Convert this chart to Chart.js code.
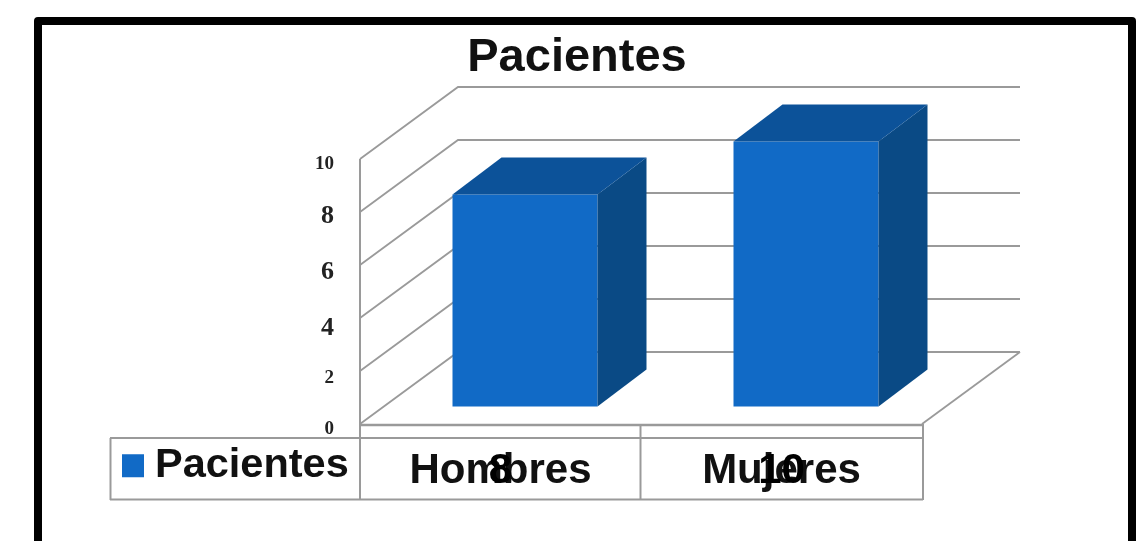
<!DOCTYPE html>
<html><head><meta charset="utf-8">
<style>html,body{margin:0;padding:0;background:#fff;overflow:hidden}#w{width:1145px;height:541px}</style>
<script src="https://cdn.jsdelivr.net/npm/chart.js@4/dist/chart.umd.min.js"></script>
</head><body><div id="w"><canvas id="c" width="1145" height="541"></canvas></div>
<script>
const categories = ['Hombres', 'Mujeres'];
const seriesName = 'Pacientes';
const patientValues = [8, 10];
const yTicks = [0, 2, 4, 6, 8, 10];

const FRONT='#116AC6', SIDE='#0A4A85', TOP='#0C5299', GRID='#9a9a9a';
const WALL={dx:98,dy:-72}, BAR={dx:24.5,dy:-17.5}, DEPTH={dx:49,dy:-37};
const tickStyle={0:{size:19,shift:5},2:{size:19,shift:7},4:{size:26,shift:10},6:{size:26,shift:7},8:{size:26,shift:4},10:{size:19,shift:5}};

function line(ctx,pts,color,w,close){
  ctx.save();ctx.strokeStyle=color;ctx.lineWidth=w;ctx.beginPath();
  pts.forEach((p,i)=>i?ctx.lineTo(p[0],p[1]):ctx.moveTo(p[0],p[1]));
  if(close)ctx.closePath();ctx.stroke();ctx.restore();
}
function face(ctx,pts,color){
  ctx.save();ctx.fillStyle=color;ctx.beginPath();
  pts.forEach((p,i)=>i?ctx.lineTo(p[0],p[1]):ctx.moveTo(p[0],p[1]));
  ctx.closePath();ctx.fill();ctx.restore();
}
const scene={
  id:'scene',
  afterLayout(chart){
    const l=chart.legend,t=chart.titleBlock;
    l.left=122;l.right=400;l.top=435.25;l.bottom=500;
    t.left=9;t.right=1145;t.top=29.5;t.bottom=86;
  },
  beforeDraw(chart){
    const ctx=chart.ctx;
    ctx.save();ctx.fillStyle='#fff';ctx.fillRect(0,0,1145,541);ctx.restore();
    ctx.save();ctx.strokeStyle='#000';ctx.lineWidth=8;ctx.lineJoin='round';
    ctx.strokeRect(38,21,1094,600);ctx.restore();
    chart.scales.y.getLabelItems(chart.chartArea).forEach((it,i)=>{
      const v=chart.scales.y.ticks[i].value;
      if(!it._moved){it.options.translation[1]+=tickStyle[v].shift;it._moved=true;}
    });
  },
  beforeDatasetsDraw(chart){
    const ctx=chart.ctx,{left,right,bottom}=chart.chartArea,y=chart.scales.y,x=chart.scales.x;
    const bx=left+WALL.dx,rx=right+WALL.dx;
    yTicks.forEach(v=>{
      const p=y.getPixelForValue(v);
      line(ctx,[[left,p],[bx,p+WALL.dy],[rx,p+WALL.dy]],GRID,1.8);
    });
    const fy=bottom+WALL.dy;
    line(ctx,[[rx,fy],[right,bottom]],GRID,1.8);
    line(ctx,[[left,y.getPixelForValue(10)],[left,500]],GRID,2);
    line(ctx,[[left,bottom+1],[right,bottom+1]],GRID,2.5);
    // data table under the floor
    const half=(x.getPixelForTick(1)-x.getPixelForTick(0))/2;
    const mid=x.getPixelForTick(0)+half-0.5;
    line(ctx,[[110,438],[right+1,438]],GRID,2);
    line(ctx,[[110,499.5],[right+1,499.5]],GRID,2);
    line(ctx,[[110.5,438],[110.5,500]],GRID,2);
    line(ctx,[[mid,424],[mid,500]],GRID,2);
    line(ctx,[[right+1,424],[right+1,500]],GRID,2);
    ctx.save();ctx.font='bold 42px "Liberation Sans"';ctx.fillStyle='#000';ctx.textAlign='center';ctx.textBaseline='alphabetic';
    patientValues.forEach((v,i)=>ctx.fillText(String(v),x.getPixelForTick(i),483));
    ctx.restore();
  },
  beforeDatasetDraw(chart){chart.ctx.save();chart.ctx.translate(BAR.dx,BAR.dy);},
  afterDatasetDraw(chart,args){
    const ctx=chart.ctx;ctx.restore();
    args.meta.data.forEach(b=>{
      const l=b.x-b.width/2+BAR.dx,r=b.x+b.width/2+BAR.dx,t=b.y+BAR.dy,bt=b.base+BAR.dy;
      face(ctx,[[r,t],[r+DEPTH.dx,t+DEPTH.dy],[r+DEPTH.dx,bt+DEPTH.dy],[r,bt]],SIDE);
      face(ctx,[[l,t],[l+DEPTH.dx,t+DEPTH.dy],[r+DEPTH.dx,t+DEPTH.dy],[r,t]],TOP);
    });
  }
};
new Chart(document.getElementById('c'),{
  type:'bar',
  data:{labels:categories,datasets:[{label:seriesName,data:patientValues,backgroundColor:FRONT,clip:false,barPercentage:0.516,categoryPercentage:1}]},
  options:{
    responsive:false,animation:false,
    layout:{padding:{left:280,right:223,top:102.6,bottom:0}},
    plugins:{
      tooltip:{enabled:false},
      title:{display:true,text:'Pacientes',color:'#111',padding:0,font:{family:'"Liberation Sans"',size:47,weight:'bold'}},
      legend:{display:true,position:'chartArea',align:'start',
        labels:{boxWidth:2.5,boxHeight:3.5,padding:9.75,color:'#111',font:{family:'"Liberation Sans"',size:41.5,weight:'bold'},
          generateLabels(chart){return Chart.defaults.plugins.legend.labels.generateLabels(chart).map(o=>Object.assign(o,{lineWidth:19.5,strokeStyle:FRONT,fillStyle:FRONT}));}}}
    },
    scales:{
      x:{afterFit(s){s.height=117;},grid:{display:false,drawTicks:false},border:{display:false},
        ticks:{padding:22,color:'#111',maxRotation:0,font:{family:'"Liberation Sans"',size:42,weight:'bold'}}},
      y:{min:0,max:10,afterFit(s){s.width=80;},
        grid:{display:false,drawTicks:false},border:{display:false},
        ticks:{stepSize:2,padding:26,color:'#222',font:c=>({family:'"Liberation Serif"',weight:'bold',size:(c.tick&&tickStyle[c.tick.value])?tickStyle[c.tick.value].size:19})}}
    }
  },
  plugins:[scene]
});
</script></body></html>
